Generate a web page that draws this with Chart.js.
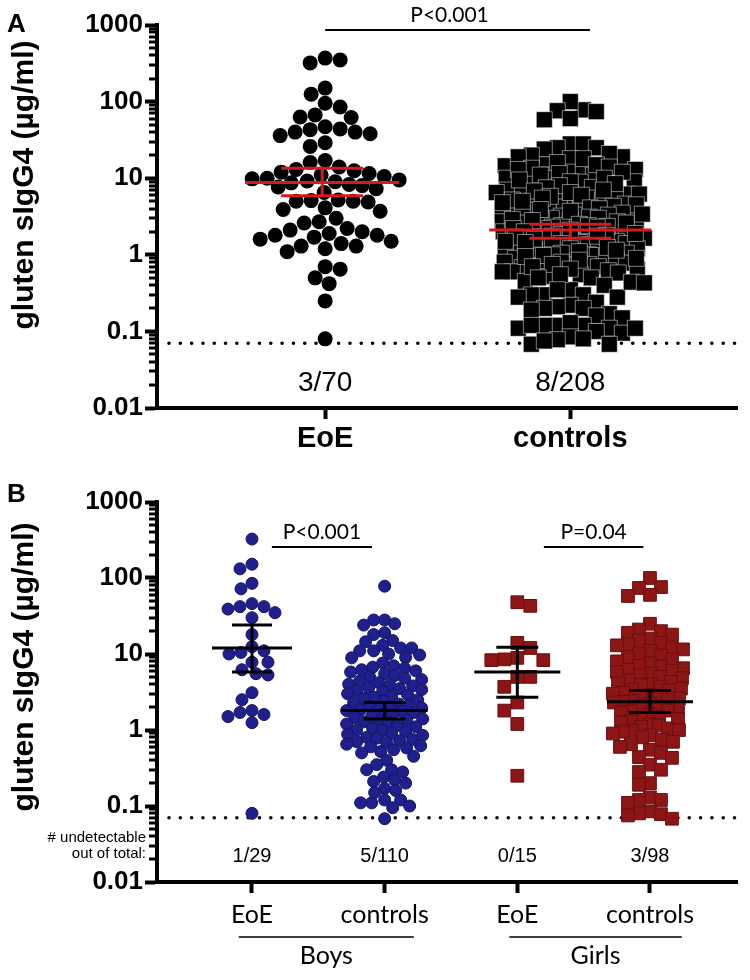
<!DOCTYPE html>
<html><head><meta charset="utf-8">
<script src="https://cdn.jsdelivr.net/npm/chart.js@4.4.1/dist/chart.umd.min.js"></script>
<style>
html,body{margin:0;padding:0;background:#fff;}
body{width:750px;height:980px;position:relative;overflow:hidden;}
#ca{position:absolute;left:0;top:0;}
#cb{position:absolute;left:0;top:470px;}
</style></head><body>
<canvas id="ca" width="750" height="470"></canvas>
<canvas id="cb" width="750" height="510"></canvas>
<script>
// ---------- data ----------
const yTickLabels = ['0.01', '0.1', '1', '10', '100', '1000'];
const detectionLimit = 0.07;

// Panel A
const catsA = ['EoE', 'controls'];
const eoeA = [370, 350, 320, 150, 125, 95, 85, 67, 63, 62, 47, 44, 43, 40, 40, 38, 36, 29, 26, 17, 16, 14, 13,
  12.5, 12, 11.5, 11, 10.5, 10, 9.8, 9.5, 9.2, 9, 8.7, 8.3, 8, 7.7, 7.3, 6.5, 5.2, 5.1, 5.0, 5.0, 4.9, 4.1, 3.9, 3.7,
  3.0, 2.7, 2.6, 2.2, 2.1, 2.0, 1.9, 1.8, 1.8, 1.7, 1.6, 1.5, 1.4, 1.3, 1.3, 1.2, 1.1, 0.7, 0.65, 0.5, 0.42, 0.25, 0.08];
const countsA = ['3/70', '8/208'];
const meanA = [8.8, 2.1];
const ciLowA = [5.9, 1.65];
const ciHighA = [13.5, 2.5];
const pValueA = 'P<0.001';

// Panel B
const catsB = ['EoE', 'controls', 'EoE', 'controls'];
const groupsB = ['Boys', 'Girls'];
const boysEoE = [325, 152, 132, 85, 72, 46, 42, 42, 39, 35, 30, 18, 12.5, 11, 10.5, 10, 7.8, 7.8, 6.2, 5.5, 5.3,
  3.1, 2.5, 1.8, 1.7, 1.6, 1.5, 1.25, 0.08];
const boysCtrl = [78, 28, 28, 25, 24, 19, 18, 15, 14.5, 13, 12, 12, 11, 11, 10, 9.7, 9.0, 8.9, 7.6, 7.0,
  6.7, 6.5, 6.2, 6.0, 5.8, 5.5, 5.2, 5.0, 4.8, 4.6, 4.4, 4.2, 4.0, 3.9, 3.8, 3.6, 3.5, 3.4, 3.3, 3.2,
  3.0, 2.9, 2.8, 2.7, 2.6, 2.5, 2.4, 2.3, 2.2, 2.1, 2.05, 2.0, 1.95, 1.9, 1.85, 1.8, 1.75, 1.7, 1.65, 1.6,
  1.5, 1.45, 1.4, 1.35, 1.3, 1.28, 1.25, 1.2, 1.15, 1.1, 1.05, 1.0, 0.98, 0.95, 0.9, 0.88, 0.85, 0.8, 0.78, 0.75,
  0.72, 0.7, 0.68, 0.65, 0.62, 0.6, 0.58, 0.55, 0.52, 0.5, 0.45, 0.4, 0.35, 0.3, 0.3, 0.28, 0.24, 0.22, 0.21, 0.2,
  0.17, 0.16, 0.15, 0.12, 0.12, 0.11, 0.11, 0.1, 0.095, 0.068];
const girlsEoE = [48, 43, 14, 12, 8.9, 8.5, 8.3, 8.3, 5.0, 5.0, 3.7, 2.3, 1.8, 1.2, 0.25];
const girlsCtrl = [100, 76, 74, 60, 58, 25, 21, 20, 19, 18, 16, 15, 14, 13.5, 13, 12, 11.5, 11, 10, 9.5,
  9, 8.5, 8, 7.5, 7, 6.8, 6.5, 6.2, 6, 5.8, 5.5, 5.2, 5, 4.8, 4.5, 4.3, 4.1, 4.0, 3.9, 3.7,
  3.5, 3.4, 3.3, 3.1, 3.0, 2.9, 2.8, 2.7, 2.6, 2.5, 2.4, 2.35, 2.3, 2.2, 2.1, 2.0, 1.9, 1.8, 1.75, 1.7,
  1.6, 1.5, 1.45, 1.4, 1.3, 1.25, 1.2, 1.15, 1.1, 1.05, 1.0, 0.98, 0.95, 0.9, 0.85, 0.8, 0.75, 0.7, 0.65, 0.6,
  0.55, 0.5, 0.44, 0.43, 0.35, 0.3, 0.28, 0.2, 0.19, 0.13, 0.12, 0.12, 0.11, 0.085, 0.08, 0.078, 0.075, 0.068];
const countsB = ['1/29', '5/110', '0/15', '3/98'];
const meanB = [12, 1.8, 5.8, 2.35];
const ciLowB = [5.8, 1.4, 2.7, 1.7];
const ciHighB = [24, 2.3, 12.3, 3.3];
const pValuesB = ['P<0.001', 'P=0.04'];
const undetectText = ['# undetectable', 'out of total:'];

// panel A controls are the boys and girls controls together
const controlsA = boysCtrl.concat(girlsCtrl);

// ---------- helpers ----------
const FONT = "'Liberation Sans', Arial, Helvetica, sans-serif";
const CAL = "Lato, 'Open Sans', sans-serif";
const yTitle = 'gluten sIgG4 (\u00b5g/ml)';

function labelFor(v) {
  const s = yTickLabels.find(l => Math.abs(parseFloat(l) - v) < v * 1e-6);
  return s === undefined ? '' : s;
}
function logTicks() {
  const t = [];
  const lo = Math.round(Math.log10(parseFloat(yTickLabels[0])));
  const hi = Math.round(Math.log10(parseFloat(yTickLabels[yTickLabels.length - 1])));
  for (let e = lo; e < hi; e++) {
    for (let m = 1; m < 10; m++) t.push({ value: parseFloat((m * Math.pow(10, e)).toPrecision(3)), major: m === 1 });
  }
  t.push({ value: Math.pow(10, hi), major: true });
  return t;
}

function swarm(chart, dsIdx, cat, values, D, W, square) {
  const xs = chart.scales.x, ys = chart.scales.y;
  const cx = xs.getPixelForValue(cat);
  const ppu = xs.getPixelForValue(cat + 1) - cx;
  const order = values.map((v, i) => ({ i, py: ys.getPixelForValue(v) })).sort((a, b) => a.py - b.py);
  const placed = [];
  const off = new Array(values.length).fill(0);
  order.forEach((p, n) => {
    const sgn = n % 2 ? 1 : -1;
    let bestDx = 0, bestD = -1;
    for (let k = 0; k <= 2 * W; k++) {
      const dx = (k % 2 ? sgn : -sgn) * Math.ceil(k / 2);
      let md = Infinity;
      for (const q of placed) {
        const ddy = Math.abs(q.py - p.py);
        if (ddy >= D) continue;
        const ddx = Math.abs(q.dx - dx);
        const d = square ? Math.max(ddx, ddy) : Math.hypot(ddx, ddy);
        if (d < md) md = d;
      }
      if (md >= D) { bestDx = dx; bestD = md; break; }
      if (md > bestD + 0.5) { bestD = md; bestDx = dx; }
    }
    placed.push({ py: p.py, dx: bestDx });
    off[p.i] = bestDx;
  });
  chart.data.datasets[dsIdx].data = values.map((v, i) => ({ x: cat + off[i] / ppu, y: v }));
}

function annotPlugin(cfg) {
  return {
    id: 'annot',
    beforeDatasetsDraw(chart) {
      const { ctx, chartArea: ca, scales: { y } } = chart;
      ctx.save();
      ctx.strokeStyle = '#000';
      ctx.lineWidth = 3;
      y.ticks.forEach(t => {
        if (!t.major) {
          const py = Math.round(y.getPixelForValue(t.value));
          ctx.beginPath(); ctx.moveTo(ca.left - 8, py); ctx.lineTo(ca.left, py); ctx.stroke();
        }
      });
      const dy = y.getPixelForValue(detectionLimit);
      ctx.setLineDash([0.01, 11.3]);
      ctx.lineCap = 'round';
      ctx.lineWidth = 3.6;
      ctx.beginPath(); ctx.moveTo(ca.left + 12, dy); ctx.lineTo(ca.right, dy); ctx.stroke();
      ctx.restore();
    },
    afterDatasetsDraw(chart) {
      const { ctx, scales: { x, y } } = chart;
      ctx.save();
      ctx.strokeStyle = cfg.barColor;
      ctx.lineWidth = 3;
      cfg.mean.forEach((m, i) => {
        const cx = x.getPixelForValue(i + 1) + (cfg.barShift ? cfg.barShift[i] : 0);
        const ym = y.getPixelForValue(m), yl = y.getPixelForValue(cfg.lo[i]), yh = y.getPixelForValue(cfg.hi[i]);
        const h = cfg.half[i], c = cfg.cap[i];
        ctx.beginPath();
        ctx.moveTo(cx - h, ym); ctx.lineTo(cx + h, ym);
        ctx.moveTo(cx, yl); ctx.lineTo(cx, yh);
        ctx.moveTo(cx - c, yl); ctx.lineTo(cx + c, yl);
        ctx.moveTo(cx - c, yh); ctx.lineTo(cx + c, yh);
        ctx.stroke();
      });
      ctx.restore();
    },
    afterDraw(chart) {
      const { ctx, scales: { x, y } } = chart;
      ctx.save();
      ctx.fillStyle = '#000';
      // panel letter
      ctx.font = 'bold 26px ' + FONT;
      ctx.textAlign = 'left'; ctx.textBaseline = 'alphabetic';
      ctx.fillText(cfg.letter, 7, cfg.letterY);
      // y title
      ctx.save();
      ctx.translate(cfg.titleX, cfg.titleY);
      ctx.rotate(-Math.PI / 2);
      ctx.font = 'bold 30px ' + FONT;
      ctx.textAlign = 'center'; ctx.textBaseline = 'middle';
      ctx.fillText(yTitle, 0, 0);
      ctx.restore();
      // p values
      ctx.strokeStyle = '#000'; ctx.lineWidth = 2;
      cfg.pvals.forEach(pv => {
        const x0 = x.getPixelForValue(pv.from), x1 = x.getPixelForValue(pv.to);
        ctx.beginPath(); ctx.moveTo(x0, pv.lineY); ctx.lineTo(x1, pv.lineY); ctx.stroke();
        ctx.font = cfg.pFont; ctx.textAlign = 'center'; ctx.textBaseline = 'alphabetic';
        ctx.fillText(pv.text, (x0 + x1) / 2 + (pv.dx || 0), pv.lineY - 8);
      });
      // counts
      ctx.font = cfg.countFont; ctx.textAlign = 'center'; ctx.textBaseline = 'middle';
      cfg.counts.forEach((c, i) => ctx.fillText(c, x.getPixelForValue(i + 1), y.getPixelForValue(cfg.countY)));
      if (cfg.extra) cfg.extra(chart);
      ctx.restore();
    }
  };
}

function makeChart(el, cfg) {
  return new Chart(el, {
    type: 'scatter',
    data: { datasets: cfg.datasets },
    options: {
      responsive: false, animation: false, events: [],
      layout: { padding: cfg.padding },
      plugins: { legend: { display: false }, tooltip: { enabled: false } },
      scales: {
        x: {
          type: 'linear', min: cfg.xmin, max: cfg.xmax,
          afterBuildTicks: s => { s.ticks = cfg.cats.map((c, i) => ({ value: i + 1 })); },
          afterFit: s => { s.height = cfg.xHeight; },
          ticks: { autoSkip: false, maxRotation: 0, padding: cfg.xPad, color: '#000', font: cfg.xFont,
            callback: (v, i) => cfg.cats[i] },
          grid: { display: true, drawOnChartArea: false, drawTicks: true, tickLength: 11, tickWidth: 4, tickColor: '#000' },
          border: { display: true, width: 4, color: '#000' }
        },
        y: {
          type: 'logarithmic', min: 0.01, max: 1000,
          afterBuildTicks: s => { s.ticks = logTicks(); },
          afterFit: s => { s.width = cfg.yWidth; },
          ticks: { autoSkip: false, padding: 2, color: '#000', font: { family: FONT, weight: 'bold', size: 26 },
            callback: v => labelFor(v) },
          grid: { display: true, drawOnChartArea: false, drawTicks: true, tickLength: 12, tickWidth: 4,
            tickColor: c => (c.tick && c.tick.major) ? '#000' : 'rgba(0,0,0,0)' },
          border: { display: true, width: 4, color: '#000' }
        }
      }
    },
    plugins: [annotPlugin(cfg)]
  });
}

// ---------- panel A ----------
const chartA = makeChart(document.getElementById('ca'), {
  cats: catsA, xmin: 0.314, xmax: 2.68, xHeight: 62, yWidth: 147, xPad: 3,
  padding: { left: 10, right: 13, top: 25, bottom: 0 },
  xFont: { family: FONT, weight: 'bold', size: 29 },
  datasets: [
    { data: eoeA.map(v => ({ x: 1, y: v })), pointStyle: 'circle', pointRadius: 7.5, backgroundColor: '#000',
      borderColor: '#000', borderWidth: 0, clip: false },
    { data: controlsA.map(v => ({ x: 2, y: v })), pointStyle: 'rect', pointRadius: 11.3, backgroundColor: '#000',
      borderColor: '#fff', borderWidth: 0.5, clip: false }
  ],
  barColor: '#d7191c', mean: meanA, lo: ciLowA, hi: ciHighA, half: [77, 81], cap: [41, 41], barShift: [-3, 0],
  letter: 'A', letterY: 32, titleX: 25, titleY: 185,
  pFont: '21px ' + CAL,
  pvals: [{ text: pValueA, from: 1.0, to: 2.08, lineY: 30, dx: -8 }],
  counts: countsA, countFont: '28px ' + FONT, countY: 0.021
});
swarm(chartA, 0, 1, eoeA, 15, 76, false);
swarm(chartA, 1, 2, controlsA, 13, 74, true);
chartA.update('none');

// ---------- panel B ----------
const chartB = makeChart(document.getElementById('cb'), {
  cats: catsB, xmin: 0.284, xmax: 4.656, xHeight: 98, yWidth: 147, xPad: 7,
  padding: { left: 10, right: 13, top: 32, bottom: 0 },
  xFont: { family: CAL, size: 25 },
  datasets: [
    { data: boysEoE.map(v => ({ x: 1, y: v })), pointStyle: 'circle', pointRadius: 6, backgroundColor: '#1f1f8e',
      borderColor: '#14145e', borderWidth: 1, clip: false },
    { data: boysCtrl.map(v => ({ x: 2, y: v })), pointStyle: 'circle', pointRadius: 6, backgroundColor: '#1f1f8e',
      borderColor: '#14145e', borderWidth: 1, clip: false },
    { data: girlsEoE.map(v => ({ x: 3, y: v })), pointStyle: 'rect', pointRadius: 9, backgroundColor: '#8c1616',
      borderColor: '#6a0e0e', borderWidth: 1, clip: false },
    { data: girlsCtrl.map(v => ({ x: 4, y: v })), pointStyle: 'rect', pointRadius: 9, backgroundColor: '#8c1616',
      borderColor: '#6a0e0e', borderWidth: 1, clip: false }
  ],
  barColor: '#000', mean: meanB, lo: ciLowB, hi: ciHighB, half: [40, 43, 43, 43], cap: [20, 21, 21, 21],
  letter: 'B', letterY: 32, titleX: 25, titleY: 197,
  pFont: '21px ' + CAL,
  pvals: [{ text: pValuesB[0], from: 1.15, to: 1.904, lineY: 77 }, { text: pValuesB[1], from: 3.2, to: 3.95, lineY: 77 }],
  counts: countsB, countFont: '20px ' + FONT, countY: 0.0215,
  extra(chart) {
    const { ctx, scales: { x, y } } = chart;
    ctx.font = '15px ' + FONT; ctx.textAlign = 'right'; ctx.textBaseline = 'middle';
    const yc = y.getPixelForValue(0.0215);
    ctx.fillText(undetectText[0], 146, yc - 19);
    ctx.fillText(undetectText[1], 146, yc - 3);
    const spans = [[0.9, 2.22], [2.94, 4.24]];
    ctx.strokeStyle = '#000'; ctx.lineWidth = 1.5;
    groupsB.forEach((g, i) => {
      const x0 = x.getPixelForValue(spans[i][0]), x1 = x.getPixelForValue(spans[i][1]);
      ctx.beginPath(); ctx.moveTo(x0, 467); ctx.lineTo(x1, 467); ctx.stroke();
      ctx.font = '25px ' + CAL; ctx.textAlign = 'center'; ctx.textBaseline = 'middle';
      ctx.fillText(g, (x0 + x1) / 2, 486);
    });
  }
});
swarm(chartB, 0, 1, boysEoE, 12, 38, false);
swarm(chartB, 1, 2, boysCtrl, 10.5, 38, false);
swarm(chartB, 2, 3, girlsEoE, 12.5, 36, true);
swarm(chartB, 3, 4, girlsCtrl, 11, 37, true);
chartB.update('none');
</script>
</body></html>
